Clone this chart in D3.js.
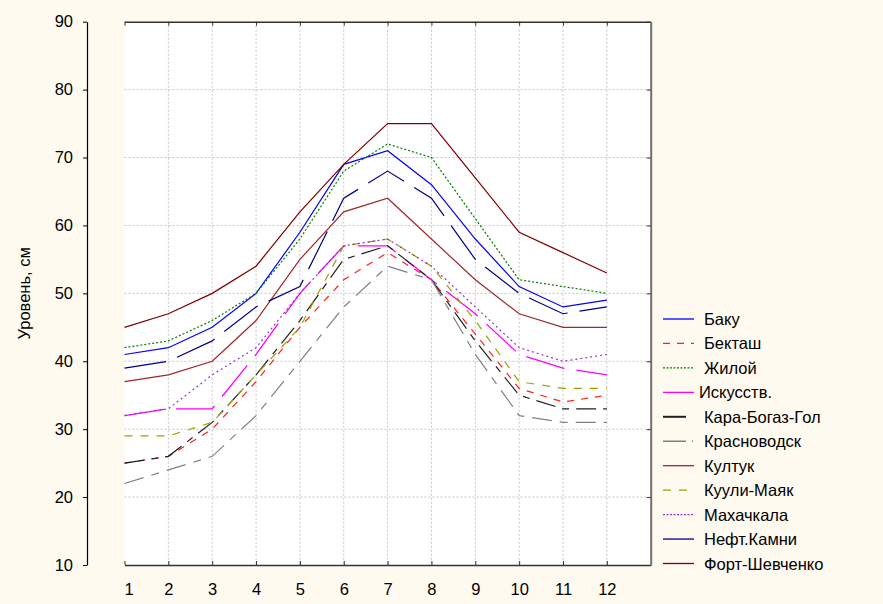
<!DOCTYPE html>
<html>
<head>
<meta charset="utf-8">
<script src="https://cdn.jsdelivr.net/npm/d3@7"></script>
<style>
  body { margin: 0; background: #fffaf0; }
  svg { display: block; font-family: "Liberation Sans", Arial, sans-serif; }
  .grid line { stroke: #c4c4c4; stroke-width: 1; stroke-dasharray: 2,2; }
  .axis text { font-size: 16.5px; fill: #000; font-family: "Liberation Sans", Arial, sans-serif; }
  .legend text { font-size: 16.5px; fill: #000; }
  .series { fill: none; stroke-width: 1.2; }
</style>
</head>
<body>
<div class="content"></div>
<script>
// months on x axis
var months = [1, 2, 3, 4, 5, 6, 7, 8, 9, 10, 11, 12];
var yTicks = [10, 20, 30, 40, 50, 60, 70, 80, 90];

// series (уровень, см)
var baku        = [41, 42, 45, 50, 59, 69, 71, 66, 58, 51, 48, 49];
var bektash     = [25, 26, 30, 37, 45, 52, 56, 52, 44, 36, 34, 35];
var zhiloy      = [42, 43, 46, 50, 58, 68, 72, 70, 61, 52, 51, 50];
var iskusstv    = [32, 33, 33, 41, 50, 57, 57, 52, 47, 41, 39, 38];
var karaBogaz   = [25, 26, 31, 38, 46, 55, 57, 52, 43, 35, 33, 33];
var krasnovodsk = [22, 24, 26, 32, 40, 48, 54, 52, 41, 32, 31, 31];
var kultuk      = [37, 38, 40, 46, 55, 62, 64, 58, 52, 47, 45, 45];
var kuuliMayak  = [29, 29, 31, 38, 45, 57, 58, 54, 46, 37, 36, 36];
var makhachkala = [32, 33, 38, 42, 50, 57, 58, 54, 48, 42, 40, 41];
var neftKamni   = [39, 40, 43, 48, 51, 64, 68, 64, 55, 50, 47, 48];
var fortShev    = [45, 47, 50, 54, 62, 69, 75, 75, 67, 59, 56, 53];

var names = ["Баку", "Бекташ", "Жилой", "Искусств.", "Кара-Богаз-Гол", "Красноводск",
             "Култук", "Куули-Маяк", "Махачкала", "Нефт.Камни", "Форт-Шевченко"];
var values = [baku, bektash, zhiloy, iskusstv, karaBogaz, krasnovodsk,
              kultuk, kuuliMayak, makhachkala, neftKamni, fortShev];

// line styles, same order as names (dash = plot line, key = legend sample)
var styles = [
  {color: "#0000ff", dash: null,        key: null,       w: 1.2},
  {color: "#ff2020", dash: "7,7",       key: "7,7",      w: 1.2},
  {color: "#008000", dash: "2,2",       key: "2,1.5",    w: 1.2},
  {color: "#ff00ff", dash: "40,12",     key: null,       w: 1.3},
  {color: "#202020", dash: "20,7,7,7",  key: "23,40",    w: 1.2},
  {color: "#808080", dash: "20,8,8,8",  key: "23,6,1,40",w: 1.2},
  {color: "#a02828", dash: null,        key: null,       w: 1.2},
  {color: "#a0a000", dash: "8,8",       key: "8,8",      w: 1.2},
  {color: "#9932cc", dash: "2,3",       key: "2,1.5",    w: 1.2},
  {color: "#000080", dash: "42,12",     key: null,       w: 1.2},
  {color: "#800000", dash: null,        key: null,       w: 1.2}
];

var fullWidth = 883, fullHeight = 604;
var plot = {left: 124.5, right: 650.7, top: 21.7, bottom: 565};

var svg = d3.select("div.content").append("svg")
    .attr("width", fullWidth)
    .attr("height", fullHeight);

svg.append("rect")
    .attr("width", fullWidth).attr("height", fullHeight)
    .attr("fill", "#fffaf0");

var x = d3.scaleLinear().domain([1, 13]).range([plot.left, plot.right]);
var y = d3.scaleLinear().domain([10, 90]).range([plot.bottom, plot.top]);

//plot background
svg.append("rect")
    .attr("x", plot.left).attr("y", plot.top)
    .attr("width", plot.right - plot.left).attr("height", plot.bottom - plot.top)
    .attr("fill", "#ffffff");

//grid
var grid = svg.append("g").attr("class", "grid");
grid.selectAll(".vg")
    .data(months.slice(1))
  .enter().append("line")
    .attr("x1", function(d){return x(d);}).attr("x2", function(d){return x(d);})
    .attr("y1", plot.top).attr("y2", plot.bottom);
grid.selectAll(".hg")
    .data(yTicks.slice(1, -1))
  .enter().append("line")
    .attr("x1", plot.left).attr("x2", plot.right)
    .attr("y1", function(d){return y(d);}).attr("y2", function(d){return y(d);});

//series
var valueLine = d3.line()
    .x(function(d, i){return x(months[i]);})
    .y(function(d){return y(d);});

svg.selectAll(".series")
    .data(values)
  .enter().append("path")
    .attr("class", "series")
    .attr("d", valueLine)
    .style("stroke", function(d, i){return styles[i].color;})
    .style("stroke-width", function(d, i){return styles[i].w;})
    .style("stroke-dasharray", function(d, i){return styles[i].dash;});

//x-axis (bottom, ticks inward)
var xAxis = d3.axisBottom(x).tickValues(months).tickSizeInner(-4).tickSizeOuter(0).tickPadding(18);
var gx = svg.append("g")
    .attr("class", "axis x-axis")
    .attr("transform", "translate(0," + plot.bottom + ")")
    .call(xAxis);
gx.select(".domain").attr("stroke", "#333").attr("stroke-width", 1.5);
gx.selectAll(".tick line").attr("stroke", "#333");
gx.selectAll(".tick text").attr("dx", function(d){return d === 1 ? 4 : 0;});

//top border with ticks
var xTop = d3.axisTop(x).tickValues(months).tickSizeInner(-4).tickSizeOuter(0).tickFormat("");
var gt = svg.append("g")
    .attr("transform", "translate(0," + plot.top + ")")
    .call(xTop);
gt.select(".domain").attr("stroke", "#333").attr("stroke-width", 1.5);
gt.selectAll(".tick line").attr("stroke", "#333");

//right border with ticks
var yRight = d3.axisRight(y).tickValues(yTicks).tickSizeInner(-4).tickSizeOuter(0).tickFormat("");
var gr = svg.append("g")
    .attr("transform", "translate(" + plot.right + ",0)")
    .call(yRight);
gr.select(".domain").attr("stroke", "#707070").attr("stroke-width", 2);
gr.selectAll(".tick line").attr("stroke", "#333");

//y-axis (detached, left)
var yAxis = d3.axisLeft(y).tickValues(yTicks).tickSizeInner(4).tickSizeOuter(0).tickPadding(10);
var gy = svg.append("g")
    .attr("class", "axis y-axis")
    .attr("transform", "translate(87,0)")
    .call(yAxis);
gy.select(".domain").attr("stroke", "#000").attr("stroke-width", 1.2);

//y-label
svg.append("text")
    .attr("transform", "translate(30," + ((plot.top + plot.bottom) / 2) + ") rotate(-90)")
    .style("text-anchor", "middle")
    .style("font-size", "16.5px")
    .text("Уровень, см");

//legend
var legend = svg.append("g").attr("class", "legend");
var item = legend.selectAll(".item")
    .data(names)
  .enter().append("g")
    .attr("class", "item")
    .attr("transform", function(d, i){return "translate(663," + (319 + i * 24.45) + ")";});
item.append("line")
    .attr("x1", 0).attr("x2", 31).attr("y1", 0).attr("y2", 0)
    .style("stroke", function(d, i){return styles[i].color;})
    .style("stroke-width", function(d, i){return i === 4 ? 2 : 1.3;})
    .style("stroke-dasharray", function(d, i){return styles[i].key;});
item.append("text")
    .attr("x", function(d){return d === "Искусств." ? 36 : 41;})
    .attr("y", 6)
    .text(function(d){return d;});
</script>
</body>
</html>
